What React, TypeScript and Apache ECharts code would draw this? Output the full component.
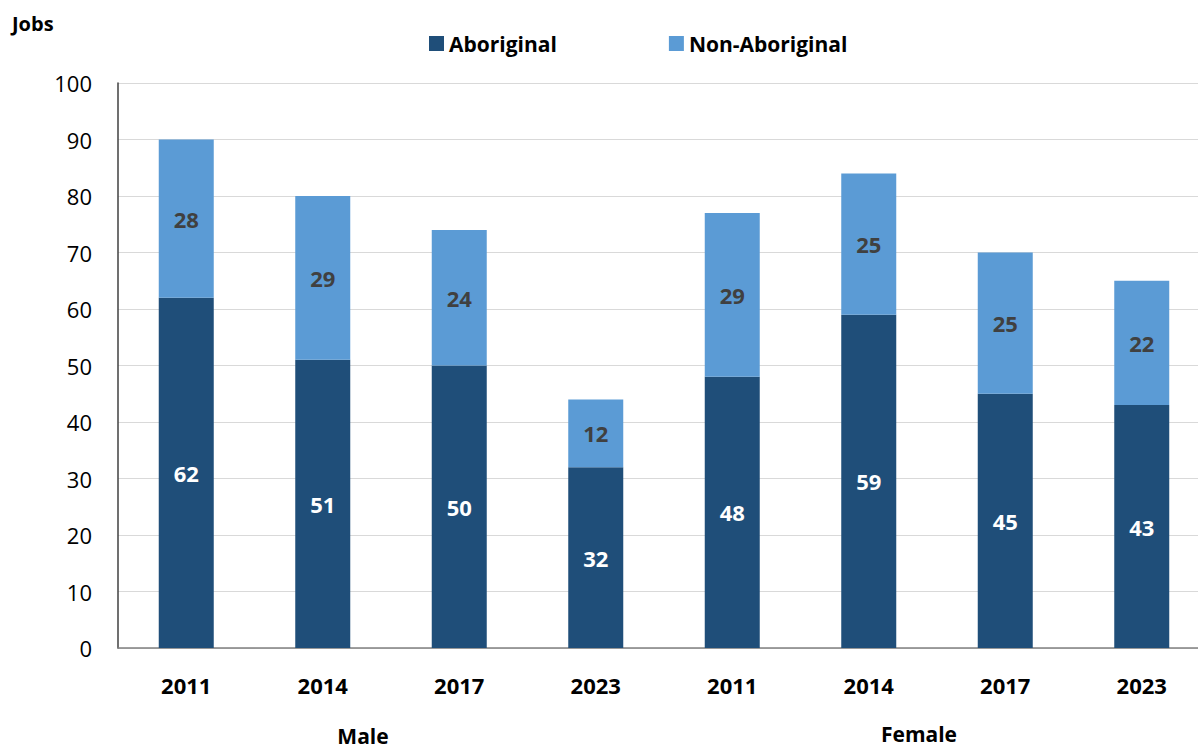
import React, { useEffect, useRef } from "react";
import * as echarts from "echarts";

const categories = ["2011", "2014", "2017", "2023", "2011", "2014", "2017", "2023"];
const aboriginal = [62, 51, 50, 32, 48, 59, 45, 43];
const nonAboriginal = [28, 29, 24, 12, 29, 25, 25, 22];
const groupLabels = ["Male", "Female"];
const yTicks = { min: 0, max: 100, interval: 10 };

const FONT = "'Open Sans', 'Liberation Sans', sans-serif";

export default function App() {
  const ref = useRef<HTMLDivElement>(null);
  useEffect(() => {
    document.body.style.margin = "0";
    const chart = echarts.init(ref.current!, undefined, { renderer: "svg" });
    chart.setOption({
      animation: false,
      textStyle: { fontFamily: FONT },
      legend: {
        top: 28,
        left: 424,
        itemWidth: 15,
        itemHeight: 15,
        itemGap: 112,
        icon: "rect",
        textStyle: { fontSize: 21, fontWeight: "bold", color: "#000", fontFamily: FONT },
        data: ["Aboriginal", "Non-Aboriginal"],
      },
      grid: { left: 118, top: 83, width: 1092, height: 565, containLabel: false },
      xAxis: {
        type: "category",
        data: categories,
        axisTick: { show: false },
        axisLine: { lineStyle: { color: "#808080", width: 1.5 } },
        axisLabel: { fontSize: 22, fontWeight: "bold", color: "#000", margin: 26, fontFamily: FONT, interval: 0 },
      },
      yAxis: {
        type: "value",
        min: yTicks.min,
        max: yTicks.max,
        interval: yTicks.interval,
        axisLine: { show: true, lineStyle: { color: "#404040", width: 1.5 } },
        axisTick: { show: false },
        splitLine: { lineStyle: { color: "#d9d9d9", width: 1 } },
        axisLabel: { fontSize: 22, color: "#000", margin: 26, fontFamily: FONT },
      },
      series: [
        {
          name: "Aboriginal",
          type: "bar",
          stack: "total",
          barWidth: 55,
          data: aboriginal,
          itemStyle: { color: "#1F4E79" },
          label: { show: true, position: "inside", color: "#fff", fontSize: 22, fontWeight: "bold", fontFamily: FONT },
        },
        {
          name: "Non-Aboriginal",
          type: "bar",
          stack: "total",
          barWidth: 55,
          data: nonAboriginal,
          itemStyle: { color: "#5B9BD5" },
          label: { show: true, position: "inside", color: "#404040", fontSize: 22, fontWeight: "bold", fontFamily: FONT },
        },
      ],
      graphic: [
        { type: "text", left: 12, top: 13, style: { text: "Jobs", fontSize: 20, fontWeight: "bold", fill: "#000", fontFamily: FONT } },
        { type: "text", x: 363, y: 736, style: { text: groupLabels[0], fontSize: 21, fontWeight: "bold", fill: "#000", fontFamily: FONT, align: "center", verticalAlign: "middle" } },
        { type: "text", x: 919, y: 734, style: { text: groupLabels[1], fontSize: 21, fontWeight: "bold", fill: "#000", fontFamily: FONT, align: "center", verticalAlign: "middle" } },
      ],
    });
    return () => chart.dispose();
  }, []);
  return (
    <div style={{ width: 1198, height: 749, overflow: "hidden" }}>
      <div ref={ref} style={{ width: 1212, height: 749 }} />
    </div>
  );
}
